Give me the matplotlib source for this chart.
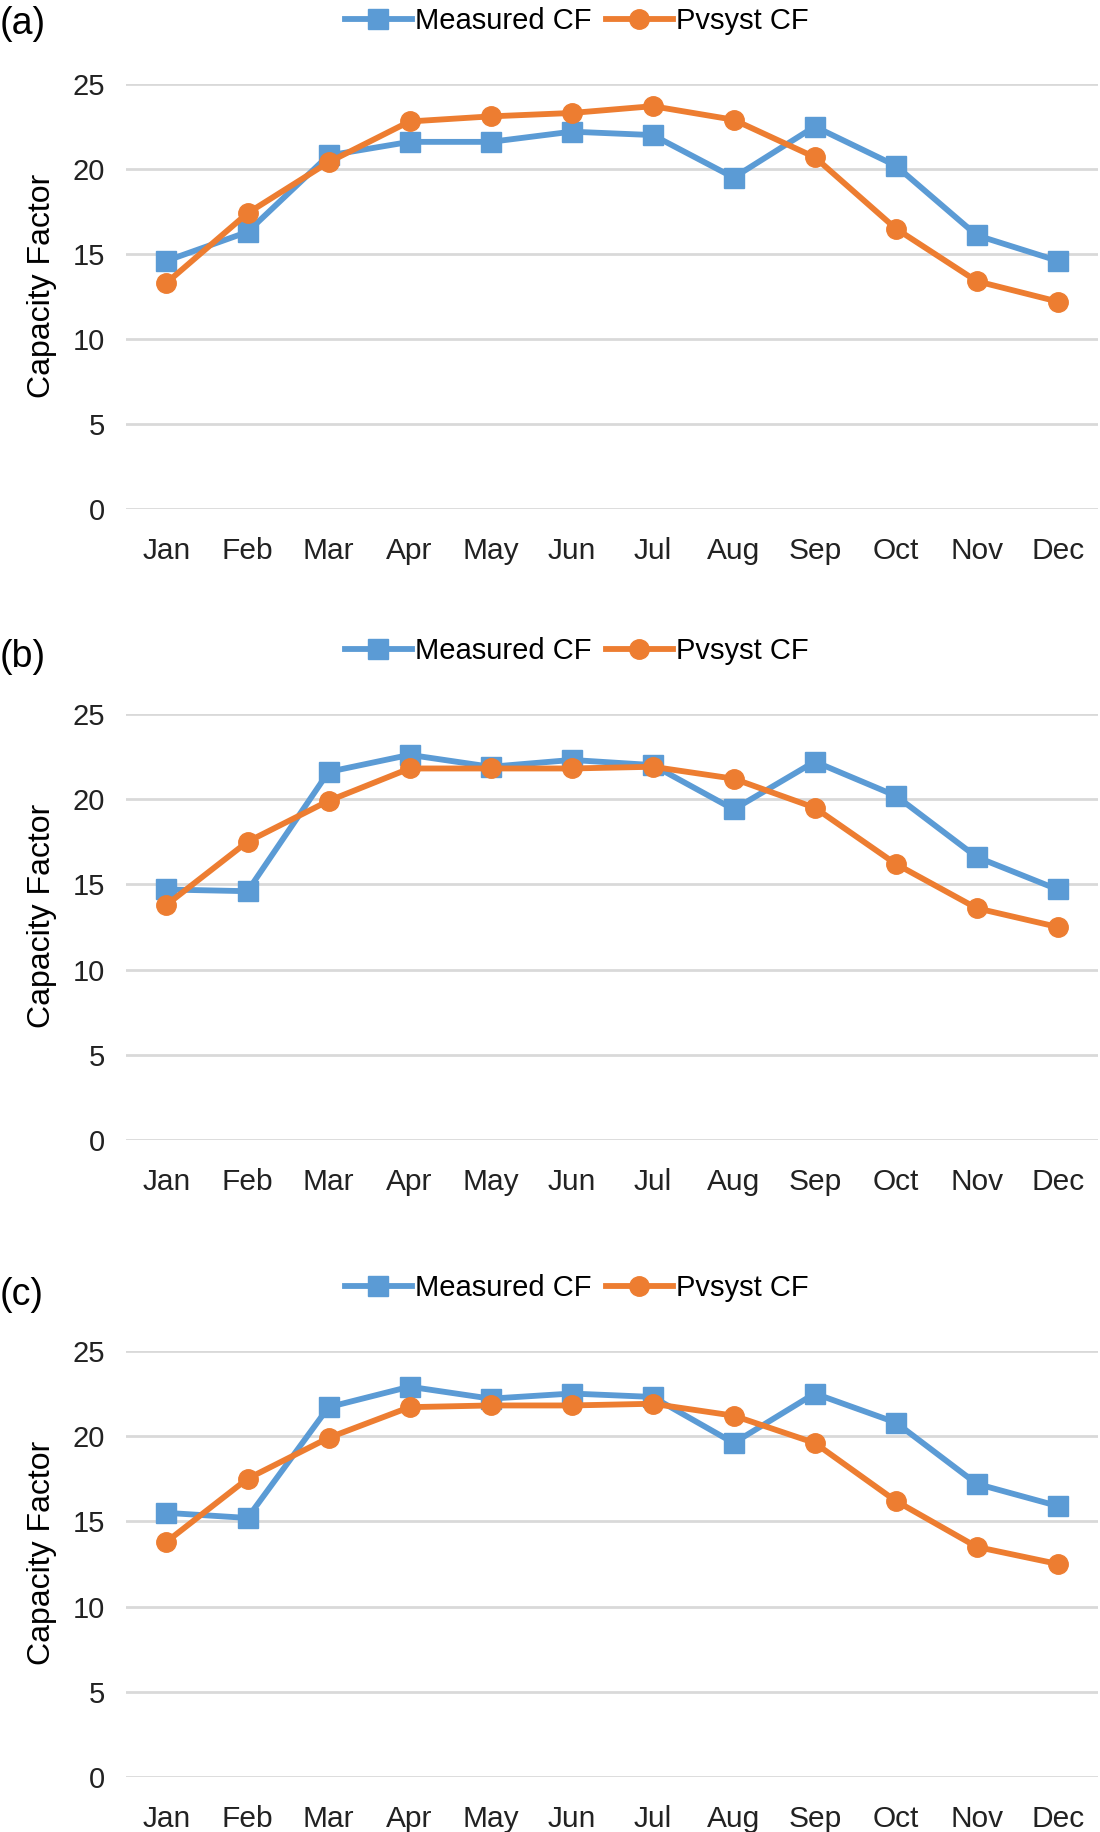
import numpy as np
import matplotlib
matplotlib.use("Agg")
import matplotlib.pyplot as plt

# Month labels and capacity factor series for the three panels
months = ["Jan", "Feb", "Mar", "Apr", "May", "Jun",
          "Jul", "Aug", "Sep", "Oct", "Nov", "Dec"]
panel_labels = ["(a)", "(b)", "(c)"]

measured_a = [14.6, 16.3, 20.8, 21.6, 21.6, 22.2, 22.0, 19.5, 22.5, 20.2, 16.1, 14.6]
pvsyst_a = [13.3, 17.4, 20.4, 22.8, 23.1, 23.3, 23.7, 22.9, 20.7, 16.5, 13.4, 12.2]

measured_b = [14.7, 14.6, 21.6, 22.6, 21.9, 22.3, 22.0, 19.4, 22.2, 20.2, 16.6, 14.7]
pvsyst_b = [13.8, 17.5, 19.9, 21.8, 21.8, 21.8, 21.9, 21.2, 19.5, 16.2, 13.6, 12.5]

measured_c = [15.5, 15.2, 21.7, 22.9, 22.2, 22.5, 22.3, 19.6, 22.5, 20.8, 17.2, 15.9]
pvsyst_c = [13.8, 17.5, 19.9, 21.7, 21.8, 21.8, 21.9, 21.2, 19.6, 16.2, 13.5, 12.5]

y_ticks = [0, 5, 10, 15, 20, 25]

BLUE = "#5b9bd5"
ORANGE = "#ed7d31"
GRID = "#d9d9d9"
FONT = ["Liberation Sans", "DejaVu Sans"]

fig = plt.figure(figsize=(11, 18.32), dpi=100)

# [left, bottom, width, height] per panel, and y of the legend / label (fig fraction)
axes_pos = [
    [0.1145, 0.7222, 0.884, 0.2319],
    [0.1145, 0.3777, 0.884, 0.2326],
    [0.1145, 0.0300, 0.884, 0.2326],
]
legend_y = [0.9885, 0.6447, 0.2969]
label_y = [0.9870, 0.6415, 0.2931]

series = [(measured_a, pvsyst_a), (measured_b, pvsyst_b), (measured_c, pvsyst_c)]

x = np.arange(len(months))
for i, (meas, pvs) in enumerate(series):
    ax = fig.add_axes(axes_pos[i])
    ax.plot(x, meas, color=BLUE, lw=4.2, marker="s", ms=14.5,
            label="Measured CF", clip_on=False, zorder=3)
    ax.plot(x, pvs, color=ORANGE, lw=4.2, marker="o", ms=14,
            label="Pvsyst CF", clip_on=False, zorder=4)

    ax.set_xlim(-0.5, 11.5)
    ax.set_ylim(0, 25)
    ax.set_yticks(y_ticks)
    ax.set_xticks(x)
    ax.set_xticklabels(months, family=FONT, fontsize=21.5)
    for lab in ax.get_yticklabels():
        lab.set_family(FONT)
        lab.set_fontsize(21)
    ax.tick_params(axis="both", length=0, colors="#222222")
    ax.tick_params(axis="x", pad=20)
    ax.tick_params(axis="y", pad=15)
    ax.grid(axis="y", color=GRID, lw=2)
    ax.set_axisbelow(True)
    for s in ax.spines.values():
        s.set_visible(False)

    ax.set_ylabel("Capacity Factor", family=FONT, fontsize=23)
    ax.yaxis.set_label_coords(-0.071, 0.525)

    leg = fig.legend(handles=ax.get_lines(), loc="center",
                     bbox_to_anchor=(0.524, legend_y[i]), ncol=2, frameon=False,
                     prop={"family": FONT, "size": 21},
                     handlelength=2.3, handletextpad=0.1, columnspacing=0.5)

    fig.text(0.0, label_y[i], panel_labels[i], family=FONT,
             fontsize=27, ha="left", va="center")

fig.savefig("out.png", dpi=100)
